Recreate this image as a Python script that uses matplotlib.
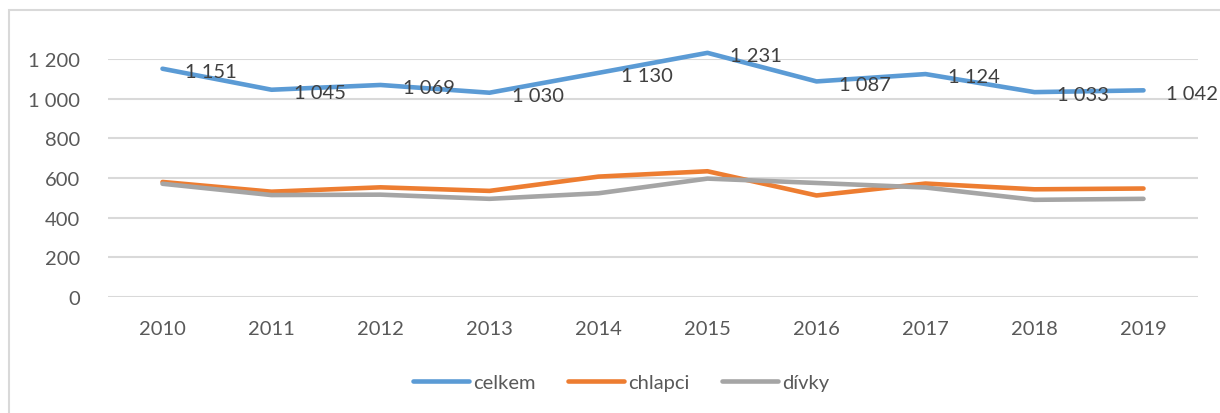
import matplotlib.pyplot as plt
from matplotlib.patches import Rectangle

# data
roky = ['2010', '2011', '2012', '2013', '2014', '2015', '2016', '2017', '2018', '2019']
celkem = [1151, 1045, 1069, 1030, 1130, 1231, 1087, 1124, 1033, 1042]
chlapci = [580, 531, 553, 535, 607, 634, 512, 572, 543, 547]
divky = [571, 514, 516, 495, 523, 597, 575, 552, 490, 495]
y_ticks = [0, 200, 400, 600, 800, 1000, 1200]

plt.rcParams['font.family'] = ['Lato', 'DejaVu Sans']

W, H = 1220, 414
fig = plt.figure(figsize=(W / 100, H / 100), dpi=100)
ax = fig.add_axes([108 / W, (H - 298) / H, 1090 / W, 238 / H])

# chart frame
fig.patches.append(Rectangle((9 / W, -0.1), 1.2, (H - 11) / H + 0.1,
                             transform=fig.transFigure, fill=False,
                             edgecolor='#d9d9d9', linewidth=1.5))

x = list(range(len(roky)))
lw = 3.3
ax.plot(x, celkem, color='#5b9bd5', lw=lw, solid_capstyle='round',
        solid_joinstyle='round', clip_on=False, label='celkem', zorder=3)
ax.plot(x, chlapci, color='#ed7d31', lw=lw, solid_capstyle='round',
        solid_joinstyle='round', clip_on=False, label='chlapci', zorder=3)
ax.plot(x, divky, color='#a5a5a5', lw=lw, solid_capstyle='round',
        solid_joinstyle='round', clip_on=False, label='dívky', zorder=3)

def fmt(v):
    return f'{v:,}'.replace(',', ' ')

for xi, v in zip(x, celkem):
    ax.annotate(fmt(v), (xi, v), xytext=(16, -2), textcoords='offset points',
                ha='left', va='center', fontsize=14.5, color='#404040',
                zorder=5, annotation_clip=False)

ax.set_xlim(-0.5, len(roky) - 0.5)
ax.set_ylim(0, 1200)
ax.set_yticks(y_ticks)
ax.set_yticklabels([fmt(v) for v in y_ticks])
ax.set_xticks(x)
ax.set_xticklabels(roky)
ax.tick_params(axis='both', length=0, labelsize=14.5, labelcolor='#595959')
ax.tick_params(axis='y', pad=20)
ax.tick_params(axis='x', pad=16.5)
ax.grid(axis='y', color='#d9d9d9', linewidth=1.5)
ax.set_axisbelow(True)
for s in ax.spines.values():
    s.set_visible(False)

fig.legend(loc='center', bbox_to_anchor=(621 / W, (H - 383) / H), ncol=3,
           frameon=False, fontsize=14.5, labelcolor='#595959',
           handlelength=2.8, handletextpad=0.2, columnspacing=1.6)

fig.savefig('out.png', dpi=100)
